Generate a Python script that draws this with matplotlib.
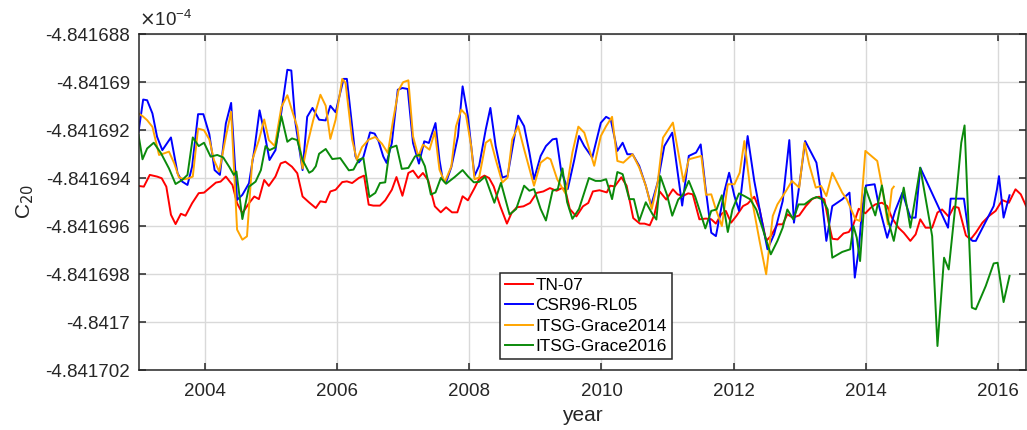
import numpy as np
import matplotlib
matplotlib.use("Agg")
import matplotlib.pyplot as plt
from matplotlib.ticker import FuncFormatter

plt.rcParams['font.family'] = ['Liberation Sans', 'DejaVu Sans']

# C20 = C20_BASE + offset * 1e-10 ; offsets read per series
C20_BASE = -4.8417e-4

tn07_t = [2003.00, 2003.08, 2003.17, 2003.28, 2003.35, 2003.42, 2003.49, 2003.56, 2003.64, 2003.71,
          2003.81, 2003.91, 2003.99, 2004.09, 2004.17, 2004.24, 2004.32, 2004.42, 2004.49, 2004.57,
          2004.67, 2004.75, 2004.82, 2004.90, 2004.97, 2005.07, 2005.15, 2005.22, 2005.32, 2005.40,
          2005.48, 2005.58, 2005.68, 2005.75, 2005.83, 2005.90, 2005.98, 2006.08, 2006.15, 2006.23,
          2006.33, 2006.41, 2006.48, 2006.55, 2006.65, 2006.73, 2006.83, 2006.90, 2006.99, 2007.08,
          2007.15, 2007.23, 2007.30, 2007.38, 2007.48, 2007.57, 2007.65, 2007.74, 2007.82, 2007.90,
          2007.98, 2008.08, 2008.15, 2008.23, 2008.30, 2008.37, 2008.47, 2008.57, 2008.64, 2008.72,
          2008.82, 2008.92, 2009.02, 2009.12, 2009.22, 2009.32, 2009.40, 2009.45, 2009.52, 2009.62,
          2009.72, 2009.80, 2009.87, 2009.97, 2010.08, 2010.13, 2010.20, 2010.30, 2010.38, 2010.48,
          2010.58, 2010.65, 2010.73, 2010.80, 2010.88, 2010.98, 2011.08, 2011.15, 2011.23, 2011.31,
          2011.38, 2011.48, 2011.58, 2011.66, 2011.73, 2011.81, 2011.88, 2011.96, 2012.04, 2012.14,
          2012.21, 2012.31, 2012.39, 2012.49, 2012.56, 2012.66, 2012.74, 2012.81, 2012.89, 2012.99,
          2013.09, 2013.19, 2013.29, 2013.37, 2013.44, 2013.49, 2013.57, 2013.66, 2013.74, 2013.81,
          2013.89, 2013.99, 2014.07, 2014.14, 2014.24, 2014.32, 2014.39, 2014.49, 2014.57, 2014.67,
          2014.75, 2014.82, 2014.90, 2015.00, 2015.08, 2015.15, 2015.25, 2015.33, 2015.40, 2015.51,
          2015.58, 2015.66, 2015.76, 2015.86, 2015.96, 2016.06, 2016.16, 2016.26, 2016.34, 2016.42]
tn07_d = [5.67, 5.64, 6.13, 6.06, 5.99, 5.64, 4.47, 4.08, 4.51, 4.43,
          4.95, 5.37, 5.39, 5.62, 5.81, 5.85, 6.06, 5.71, 4.95, 4.53,
          4.95, 5.23, 5.12, 5.92, 5.67, 6.06, 6.61, 6.68, 6.47, 6.20,
          5.23, 4.98, 4.75, 5.03, 4.99, 5.44, 5.51, 5.83, 5.86, 5.79,
          6.00, 6.10, 4.89, 4.85, 4.85, 5.07, 5.51, 6.04, 5.26, 6.21,
          6.31, 6.00, 6.21, 5.90, 4.82, 4.57, 4.78, 4.57, 4.57, 5.24,
          5.07, 5.58, 5.97, 6.10, 6.00, 5.65, 4.82, 4.10, 4.54, 4.78,
          4.82, 4.96, 5.38, 5.44, 5.58, 5.47, 5.58, 5.54, 4.71, 4.40,
          4.82, 4.96, 5.44, 5.49, 5.40, 5.68, 5.65, 6.03, 5.68, 4.33,
          4.10, 4.10, 4.03, 4.47, 5.44, 5.10, 5.53, 5.32, 5.25, 5.36,
          5.32, 4.28, 4.31, 4.28, 4.10, 4.49, 4.63, 4.14, 4.42, 4.83,
          4.93, 5.22, 4.69, 3.38, 3.58, 4.07, 4.07, 4.49, 4.35, 4.44,
          4.83, 5.14, 5.22, 5.11, 4.07, 3.47, 3.44, 3.69, 3.75, 4.07,
          4.72, 4.53, 4.76, 4.90, 4.97, 4.83, 4.35, 3.93, 3.72, 3.38,
          3.65, 4.28, 3.93, 3.93, 4.56, 4.69, 4.39, 4.81, 4.76, 3.61,
          3.44, 3.72, 4.14, 4.42, 4.63, 5.08, 4.97, 5.53, 5.32, 4.83]

csr_t = [2003.00, 2003.07, 2003.13, 2003.21, 2003.28, 2003.36, 2003.49, 2003.59, 2003.66, 2003.74,
         2003.81, 2003.90, 2003.98, 2004.07, 2004.15, 2004.23, 2004.32, 2004.40, 2004.49, 2004.57,
         2004.67, 2004.75, 2004.83, 2004.91, 2004.98, 2005.07, 2005.16, 2005.25, 2005.31, 2005.37,
         2005.48, 2005.55, 2005.63, 2005.73, 2005.83, 2005.90, 2005.98, 2006.10, 2006.15, 2006.28,
         2006.33, 2006.40, 2006.50, 2006.57, 2006.63, 2006.70, 2006.75, 2006.83, 2006.92, 2006.99,
         2007.07, 2007.15, 2007.24, 2007.32, 2007.39, 2007.49, 2007.55, 2007.60, 2007.65, 2007.73,
         2007.83, 2007.90, 2007.98, 2008.08, 2008.15, 2008.25, 2008.32, 2008.40, 2008.50, 2008.58,
         2008.65, 2008.74, 2008.83, 2008.91, 2008.98, 2009.08, 2009.16, 2009.26, 2009.32, 2009.39,
         2009.49, 2009.59, 2009.66, 2009.74, 2009.86, 2009.99, 2010.07, 2010.14, 2010.24, 2010.32,
         2010.39, 2010.47, 2010.57, 2010.67, 2010.75, 2010.85, 2010.95, 2011.07, 2011.22, 2011.32,
         2011.43, 2011.50, 2011.57, 2011.66, 2011.73, 2011.86, 2011.93, 2012.01, 2012.08, 2012.14,
         2012.21, 2012.31, 2012.41, 2012.51, 2012.61, 2012.74, 2012.84, 2012.91, 2012.99, 2013.08,
         2013.25, 2013.32, 2013.40, 2013.49, 2013.64, 2013.75, 2013.79, 2013.83, 2013.89, 2013.94,
         2014.00, 2014.13, 2014.19, 2014.32, 2014.44, 2014.55, 2014.67, 2014.75, 2014.82, 2015.24,
         2015.28, 2015.48, 2015.56, 2015.61, 2015.66, 2015.93, 2015.98, 2016.01, 2016.08, 2016.14,
         2016.17]
csr_d = [7.93, 9.27, 9.24, 8.69, 7.72, 7.16, 7.69, 6.20, 5.85, 5.71,
         6.47, 8.66, 8.66, 7.83, 6.33, 6.13, 8.27, 9.13, 5.09, 5.30,
         5.78, 7.16, 8.82, 7.79, 6.75, 7.16, 8.76, 10.51, 10.48, 8.34,
         6.33, 8.55, 8.92, 8.43, 8.40, 9.01, 8.74, 10.13, 10.13, 6.90,
         6.65, 6.88, 7.90, 7.85, 7.53, 6.90, 6.63, 7.46, 9.68, 9.75,
         9.71, 7.46, 6.60, 7.53, 7.46, 8.29, 6.76, 5.93, 5.82, 6.46,
         7.74, 9.82, 8.57, 6.09, 6.51, 8.02, 8.92, 7.33, 6.02, 6.09,
         7.20, 8.60, 8.16, 7.06, 5.95, 6.92, 7.33, 7.61, 7.64, 6.30,
         5.54, 6.78, 7.75, 7.33, 6.85, 8.30, 8.55, 8.44, 7.13, 7.47,
         6.99, 6.99, 6.51, 5.68, 4.85, 5.82, 7.33, 7.89, 4.85, 6.92,
         7.06, 7.40, 5.67, 3.72, 3.58, 5.46, 6.22, 5.25, 4.63, 6.08,
         7.75, 5.88, 4.42, 3.03, 3.65, 5.04, 7.58, 4.14, 5.67, 7.54,
         6.64, 5.39, 3.38, 4.83, 5.11, 5.39, 3.79, 1.85, 3.03, 4.69,
         5.69, 5.74, 4.90, 3.51, 4.63, 5.39, 4.35, 4.35, 6.43, 3.93,
         5.14, 5.14, 3.51, 3.38, 3.38, 4.83, 5.53, 6.08, 4.35, 4.97,
         5.28]

itsg14_t = [2003.00, 2003.06, 2003.13, 2003.21, 2003.31, 2003.39, 2003.46, 2003.54, 2003.61, 2003.69,
            2003.76, 2003.82, 2003.90, 2003.99, 2004.07, 2004.14, 2004.22, 2004.32, 2004.40, 2004.49,
            2004.57, 2004.64, 2004.72, 2004.82, 2004.90, 2004.97, 2005.06, 2005.16, 2005.25, 2005.32,
            2005.40, 2005.48, 2005.55, 2005.64, 2005.75, 2005.83, 2005.90, 2005.98, 2006.08, 2006.13,
            2006.23, 2006.30, 2006.38, 2006.48, 2006.58, 2006.68, 2006.77, 2006.85, 2006.93, 2007.00,
            2007.08, 2007.15, 2007.23, 2007.30, 2007.40, 2007.48, 2007.55, 2007.63, 2007.73, 2007.80,
            2007.88, 2007.95, 2008.03, 2008.08, 2008.15, 2008.25, 2008.32, 2008.40, 2008.50, 2008.58,
            2008.65, 2008.74, 2008.83, 2008.98, 2009.08, 2009.18, 2009.23, 2009.33, 2009.46, 2009.56,
            2009.65, 2009.74, 2009.89, 2009.99, 2010.07, 2010.16, 2010.24, 2010.33, 2010.47, 2010.57,
            2010.67, 2010.76, 2010.85, 2010.93, 2011.08, 2011.24, 2011.32, 2011.51, 2011.58, 2011.66,
            2011.73, 2011.82, 2011.91, 2012.01, 2012.09, 2012.16, 2012.26, 2012.39, 2012.49, 2012.59,
            2012.66, 2012.79, 2012.88, 2012.99, 2013.07, 2013.14, 2013.24, 2013.32, 2013.40, 2013.49,
            2013.64, 2013.71, 2013.84, 2013.91, 2013.99, 2014.17, 2014.24, 2014.33, 2014.39, 2014.42]
itsg14_d = [8.69, 8.58, 8.41, 8.13, 6.96, 7.03, 7.10, 6.61, 6.03, 5.95,
            5.99, 6.06, 8.06, 7.99, 7.61, 6.75, 6.27, 7.72, 8.76, 3.85,
            3.43, 3.57, 6.75, 7.58, 8.44, 7.58, 7.33, 8.96, 9.45, 8.82,
            8.13, 6.40, 7.37, 8.40, 9.47, 9.01, 7.63, 8.43, 10.13, 9.96,
            7.60, 6.76, 7.29, 7.60, 7.71, 7.43, 7.04, 8.43, 9.65, 9.99,
            10.07, 7.74, 6.90, 7.39, 7.18, 7.94, 6.35, 5.82, 6.49, 8.15,
            8.85, 8.64, 7.32, 5.95, 6.02, 7.47, 7.61, 6.78, 5.81, 6.02,
            7.61, 8.16, 7.20, 5.68, 6.64, 6.85, 6.78, 5.95, 5.33, 7.06,
            8.14, 7.89, 6.51, 7.75, 8.16, 8.55, 6.71, 6.64, 6.99, 6.44,
            5.68, 4.71, 5.82, 7.68, 8.31, 5.85, 6.78, 6.92, 5.30, 5.32,
            4.69, 4.00, 5.74, 5.74, 6.22, 7.54, 5.32, 3.38, 1.99, 4.42,
            4.90, 5.46, 5.88, 5.60, 7.47, 6.57, 5.60, 5.67, 5.25, 6.22,
            5.39, 5.11, 4.28, 4.21, 7.13, 6.71, 5.67, 4.07, 5.53, 5.64]

itsg16_t = [2003.00, 2003.06, 2003.13, 2003.23, 2003.34, 2003.46, 2003.56, 2003.66, 2003.74, 2003.82,
            2003.91, 2003.99, 2004.09, 2004.19, 2004.28, 2004.37, 2004.44, 2004.48, 2004.57, 2004.67,
            2004.77, 2004.85, 2004.92, 2004.98, 2005.07, 2005.16, 2005.25, 2005.32, 2005.40, 2005.48,
            2005.58, 2005.63, 2005.68, 2005.73, 2005.83, 2005.93, 2006.05, 2006.18, 2006.25, 2006.33,
            2006.40, 2006.49, 2006.58, 2006.65, 2006.73, 2006.80, 2006.90, 2006.98, 2007.08, 2007.18,
            2007.25, 2007.33, 2007.42, 2007.49, 2007.57, 2007.65, 2007.78, 2007.90, 2007.98, 2008.07,
            2008.15, 2008.24, 2008.38, 2008.48, 2008.61, 2008.71, 2008.83, 2008.91, 2008.98, 2009.08,
            2009.16, 2009.26, 2009.34, 2009.41, 2009.48, 2009.56, 2009.66, 2009.81, 2009.91, 2009.99,
            2010.07, 2010.16, 2010.24, 2010.32, 2010.42, 2010.49, 2010.57, 2010.67, 2010.77, 2010.83,
            2010.89, 2010.99, 2011.07, 2011.16, 2011.23, 2011.32, 2011.42, 2011.49, 2011.57, 2011.66,
            2011.74, 2011.82, 2011.91, 2011.98, 2012.08, 2012.16, 2012.25, 2012.34, 2012.44, 2012.56,
            2012.66, 2012.74, 2012.81, 2012.90, 2012.98, 2013.07, 2013.17, 2013.25, 2013.34, 2013.42,
            2013.49, 2013.64, 2013.76, 2013.81, 2013.86, 2013.91, 2013.99, 2014.14, 2014.24, 2014.33,
            2014.42, 2014.57, 2014.67, 2014.82, 2015.00, 2015.08, 2015.18, 2015.25, 2015.35, 2015.44,
            2015.49, 2015.53, 2015.60, 2015.66, 2015.81, 2015.93, 2015.99, 2016.08, 2016.17]
itsg16_d = [7.79, 6.78, 7.23, 7.47, 7.03, 6.40, 5.75, 5.92, 6.13, 7.69,
            7.33, 7.47, 6.89, 6.96, 6.86, 6.47, 6.13, 6.27, 4.29, 5.64,
            5.85, 6.33, 7.33, 7.16, 7.28, 8.58, 7.51, 7.65, 7.58, 6.75,
            6.22, 6.30, 6.49, 7.01, 7.21, 6.79, 6.83, 6.32, 6.35, 6.76,
            6.83, 5.21, 5.38, 5.79, 5.82, 7.25, 7.35, 6.38, 6.42, 6.90,
            6.97, 6.49, 5.31, 5.40, 6.00, 5.76, 6.04, 6.33, 6.07, 5.82,
            5.84, 6.06, 4.97, 5.80, 4.48, 4.71, 5.68, 5.47, 5.54, 4.71,
            4.23, 5.47, 5.54, 6.40, 5.00, 4.30, 4.71, 6.00, 5.88, 5.88,
            5.95, 5.12, 6.25, 6.16, 5.12, 5.12, 4.21, 4.99, 4.50, 4.27,
            6.08, 5.30, 4.43, 5.10, 5.30, 5.88, 5.20, 4.60, 3.90, 4.63,
            4.69, 5.28, 3.75, 4.69, 5.36, 5.25, 5.11, 4.69, 3.86, 2.82,
            3.38, 3.93, 4.69, 4.28, 4.90, 4.90, 5.11, 5.21, 5.11, 4.69,
            2.68, 2.92, 3.03, 4.00, 3.51, 2.54, 5.60, 4.44, 5.69, 4.28,
            3.38, 5.60, 3.93, 6.43, 3.58, -1.00, 2.68, 2.19, 4.83, 7.47,
            8.19, 5.39, 0.60, 0.53, 1.50, 2.44, 2.47, 0.83, 1.92]

labels = ['TN-07', 'CSR96-RL05', 'ITSG-Grace2014', 'ITSG-Grace2016']
colors = ['#ff0000', '#0000ff', '#ffa500', '#0b8a0b']
series = [(tn07_t, tn07_d), (csr_t, csr_d), (itsg14_t, itsg14_d), (itsg16_t, itsg16_d)]

fig = plt.figure(figsize=(10.27, 4.30), dpi=100)
ax = fig.add_axes([0.1349, 0.1395, 0.8642, 0.7814])

for (t, d), lab, col in zip(series, labels, colors):
    c20 = C20_BASE + np.array(d) * 1e-10
    ax.plot(t, c20 * 1e4, color=col, lw=1.4, label=lab)

ax.set_xlim(2003, 2016.42)
ax.set_ylim(-4.841702, -4.841688)
ax.set_xticks(np.arange(2004, 2017, 2))
yt = -4.841702 + 2e-6 * np.arange(8)
ax.set_yticks(yt)
ax.yaxis.set_major_formatter(FuncFormatter(lambda v, p: f"{v:.6f}".rstrip('0').rstrip('.')))

dark = '#262626'
ax.grid(True, color='#d9d9d9', lw=1.0)
ax.set_axisbelow(True)
for s in ax.spines.values():
    s.set_color(dark)
    s.set_linewidth(1.1)
ax.tick_params(direction='in', length=5, width=1.1, colors=dark, labelsize=13.5,
               top=True, right=True, pad=6)
ax.tick_params(axis='x', pad=9)

ax.set_xlabel('year', fontsize=15, color=dark, labelpad=5)
ax.set_ylabel('C$_{20}$', fontsize=15, color=dark, labelpad=7)
ax.text(0.0, 1.012, r'$\times\mathregular{10^{-4}}$', transform=ax.transAxes,
        fontsize=13.5, color=dark, va='bottom', ha='left')

leg = ax.legend(loc='lower left', bbox_to_anchor=(0.4073, 0.0327), borderaxespad=0,
                fontsize=12.4, handlelength=1.6, handletextpad=0.15, labelspacing=0.3,
                borderpad=0.3, fancybox=False, framealpha=1)
leg.get_frame().set_edgecolor(dark)
leg.get_frame().set_linewidth(1.1)

fig.savefig('out.png', dpi=100)
